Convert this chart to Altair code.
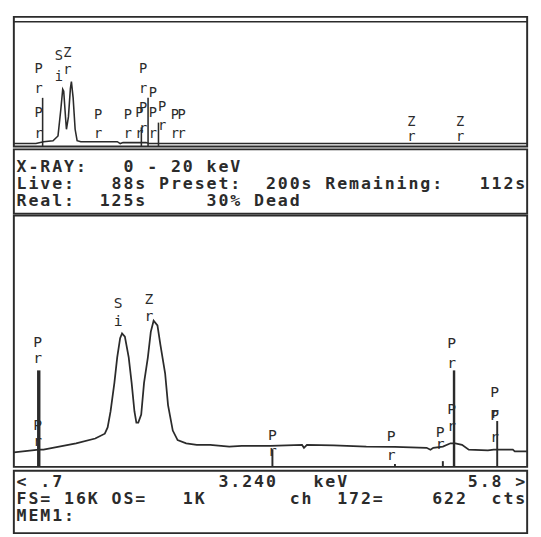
import altair as alt
import pandas as pd

# ---------------- overview spectrum, 0 - 20 keV ----------------
ov_energy = [-0.27, 0.62, 0.93, 1.31, 1.51, 1.62, 1.70, 1.74, 1.82, 1.85, 1.93, 2.01,
             2.05, 2.12, 2.20, 2.28, 2.43, 3.90, 4.02, 4.13, 5.06, 5.17, 20.42]
ov_counts = [300, 300, 500, 600, 1100, 3800, 6000, 5800, 2800, 1800, 3100, 6100,
             6800, 5100, 1800, 600, 500, 500, 300, 400, 400, 300, 300]

ov_marker_energy = [0.89, 4.87, 5.14, 5.56]
ov_marker_top = [5100, 2000, 5100, 2500]

ov_label_energy = [0.73, 0.73, 0.73, 0.73, 1.54, 1.54, 1.89, 1.89, 3.13, 3.13, 4.32, 4.32,
                   4.79, 4.79, 4.94, 4.94, 4.94, 4.94, 5.33, 5.33, 5.33, 5.71, 5.71,
                   6.22, 6.22, 6.49, 6.49, 15.75, 15.75, 17.72, 17.72]
ov_label_count = [8100, 6000, 3500, 1300, 9500, 7300, 9800, 8000, 3300, 1300, 3300, 1300,
                  3500, 1300, 8100, 6000, 4000, 1800, 5600, 3500, 1300, 4100, 2100,
                  3300, 1300, 3300, 1300, 2600, 1000, 2600, 1000]
ov_label_text = ["P", "r", "P", "r", "S", "i", "Z", "r", "P", "r", "P", "r",
                 "P", "r", "P", "r", "P", "r", "P", "P", "r", "P", "r",
                 "P", "r", "P", "r", "Z", "r", "Z", "r"]

# ---------------- expanded spectrum, 0.7 - 5.8 keV ----------------
sp_energy = [0.665, 0.912, 0.959, 1.282, 1.472, 1.567, 1.595, 1.624, 1.662, 1.690, 1.719,
             1.738, 1.766, 1.804, 1.833, 1.861, 1.880, 1.899, 1.928, 1.956, 1.994, 2.023,
             2.051, 2.089, 2.118, 2.165, 2.194, 2.241, 2.289, 2.374, 2.479, 2.612, 2.801,
             2.925, 3.210, 3.523, 3.542, 3.571, 3.837, 4.160, 4.444, 4.758, 4.796, 4.824,
             4.919, 4.995, 5.043, 5.109, 5.176, 5.366, 5.423, 5.613, 5.632, 5.755]
sp_counts = [433, 509, 509, 699, 841, 982, 1169, 1641, 2490, 3246, 3812,
             3954, 3857, 3246, 2490, 1641, 1310, 1310, 1548, 2490, 3246, 3999,
             4330, 4188, 3622, 2773, 1831, 1075, 792, 699, 651, 651, 603,
             622, 622, 651, 566, 651, 637, 603, 594, 566, 509, 566,
             603, 699, 699, 651, 509, 490, 509, 509, 461, 461]

sp_marker_energy = [0.912, 3.229, 4.444, 4.919, 5.030, 5.458]
sp_marker_top = [2858, 509, 85, 170, 2858, 1358]
sp_marker_width = [3.5, 2, 2, 2, 2.5, 2]

sp_label_energy = [0.902, 0.902, 0.902, 0.902, 1.70, 1.70, 2.004, 2.004, 3.229, 3.229,
                   4.406, 4.406, 4.891, 4.891, 5.005, 5.005, 5.005, 5.005,
                   5.432, 5.432, 5.432, 5.432]
sp_label_count = [3707, 3226, 1245, 764, 4839, 4330, 4981, 4471, 934, 453,
                  906, 340, 1019, 679, 3679, 3085, 1698, 1217,
                  2207, 1585, 1528, 877]
sp_label_text = ["P", "r", "P", "r", "S", "i", "Z", "r", "P", "r",
                 "P", "r", "P", "r", "P", "r", "P", "r",
                 "P", "r", "P", "r"]

# ---------------- status text ----------------
info_lines = ["X-RAY:   0 - 20 keV",
              "Live:   88s Preset:  200s Remaining:   112s",
              "Real:  125s     30% Dead"]
status_lines = ["< .7" + " " * 13 + "3.240" + " " * 3 + "keV" + " " * 10 + "5.8 >",
                "FS= 16K OS=   1K       ch  172=    622  cts",
                "MEM1:"]

W = 527
H_TOP, H_INFO, H_MAIN, H_STAT = 133, 66, 258, 64
INK = "#2b2b2b"
FONT = "DejaVu Sans Mono"


def char_table(lines):
    rows = []
    for r, line in enumerate(lines):
        for c, ch in enumerate(line):
            if ch != " ":
                rows.append({"row": r, "col": c, "ch": ch})
    return pd.DataFrame(rows)


# ---- top overview panel ----
ov_df = pd.DataFrame({"e_ov": ov_energy, "c_ov": ov_counts})
ovm_df = pd.DataFrame({"e_ov": ov_marker_energy, "c_ov": ov_marker_top,
                       "base": [0] * len(ov_marker_top)})
ovl_df = pd.DataFrame({"e_ov": ov_label_energy, "c_ov": ov_label_count, "t": ov_label_text})

x_ov = alt.X("e_ov:Q", scale=alt.Scale(domain=[-0.27, 20.42], nice=False, zero=False), axis=None)
y_ov = alt.Y("c_ov:Q", scale=alt.Scale(domain=[0, 13600], nice=False, zero=False), axis=None)

top = alt.layer(
    alt.Chart(pd.DataFrame({"k": [0]})).mark_rule(color=INK, strokeWidth=1.6).encode(
        y=alt.value(5), x=alt.value(0), x2=alt.value(W)),
    alt.Chart(ov_df).mark_line(color=INK, strokeWidth=1.6, interpolate="linear").encode(x=x_ov, y=y_ov),
    alt.Chart(ovm_df).mark_rule(color=INK, strokeWidth=1.6).encode(x=x_ov, y=y_ov, y2=alt.Y2("base:Q")),
    alt.Chart(ovl_df).mark_text(font=FONT, fontSize=14, color=INK, align="center",
                                baseline="middle").encode(x=x_ov, y=y_ov, text="t:N"),
).properties(width=W, height=H_TOP)

# ---- info text panel ----
info_df = char_table(info_lines)
x_col = alt.X("col:Q", scale=alt.Scale(domain=[-0.645, 42.58], nice=False, zero=False), axis=None)
info = alt.Chart(info_df).mark_text(font=FONT, fontSize=17, fontWeight="bold", color=INK,
                                    align="center", baseline="middle").encode(
    x=x_col,
    y=alt.Y("row:Q", scale=alt.Scale(domain=[-1.0, 2.72], reverse=True, nice=False, zero=False), axis=None),
    text="ch:N",
).properties(width=W, height=H_INFO)

# ---- main expanded spectrum ----
sp_df = pd.DataFrame({"e": sp_energy, "c": sp_counts})
spm_df = pd.DataFrame({"e": sp_marker_energy, "c": sp_marker_top,
                       "base": [0] * len(sp_marker_top), "w": sp_marker_width})
spl_df = pd.DataFrame({"e": sp_label_energy, "c": sp_label_count, "t": sp_label_text})

x_sp = alt.X("e:Q", scale=alt.Scale(domain=[0.665, 5.755], nice=False, zero=False), axis=None)
y_sp = alt.Y("c:Q", scale=alt.Scale(domain=[0, 7443], nice=False, zero=False), axis=None)

main = alt.layer(
    alt.Chart(sp_df).mark_line(color=INK, strokeWidth=1.8).encode(x=x_sp, y=y_sp),
    alt.Chart(spm_df).mark_rule(color=INK).encode(
        x=x_sp, y=y_sp, y2=alt.Y2("base:Q"),
        strokeWidth=alt.StrokeWidth("w:Q", scale=None, legend=None)),
    alt.Chart(spl_df).mark_text(font=FONT, fontSize=15, color=INK, align="center",
                                baseline="middle").encode(x=x_sp, y=y_sp, text="t:N"),
).properties(width=W, height=H_MAIN)

# ---- bottom status panel ----
stat_df = char_table(status_lines)
stat = alt.Chart(stat_df).mark_text(font=FONT, fontSize=17, fontWeight="bold", color=INK,
                                    align="center", baseline="middle").encode(
    x=x_col,
    y=alt.Y("row:Q", scale=alt.Scale(domain=[-0.686, 3.03], reverse=True, nice=False, zero=False), axis=None),
    text="ch:N",
).properties(width=W, height=H_STAT)

chart = alt.vconcat(top, info, main, stat, spacing=0).resolve_scale(
    x="independent", y="independent"
).properties(padding=1).configure(background="white").configure_view(
    stroke=INK, strokeWidth=2
)

chart.save("out.html", embed_options={"renderer": "svg", "actions": False})
